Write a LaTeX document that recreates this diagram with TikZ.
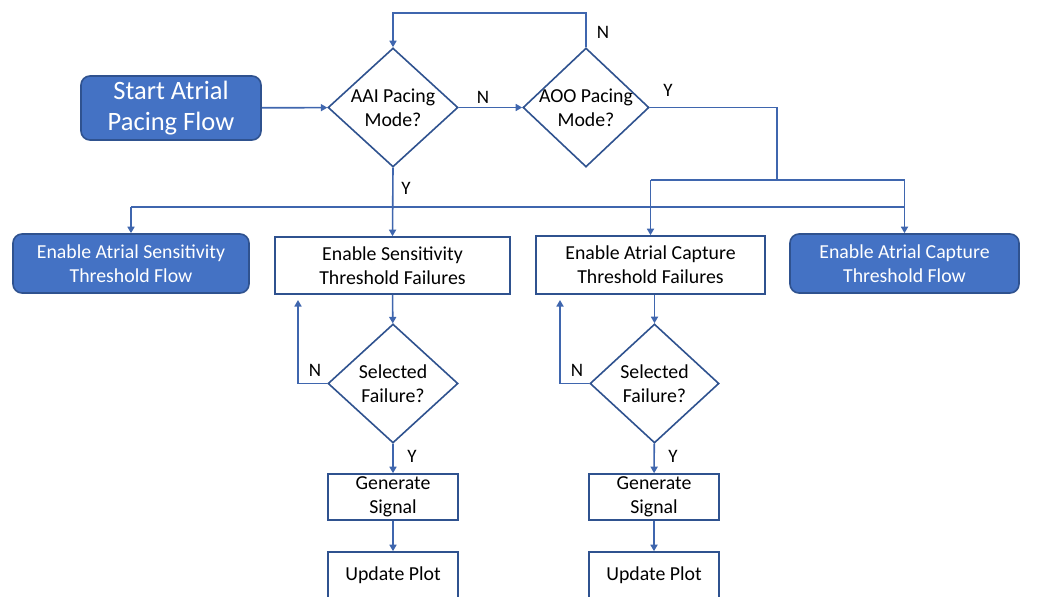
\documentclass[tikz,border=0pt]{standalone}
\usepackage{fontspec}
\setmainfont{Carlito}
\usetikzlibrary{shapes.geometric,arrows.meta}
\definecolor{lineblue}{HTML}{3F66AE}
\definecolor{fillblue}{HTML}{4472C4}
\definecolor{edgeblue}{HTML}{2F528F}

\begin{document}
\begin{tikzpicture}[x=1pt,y=-1pt,
  flow/.style={draw=edgeblue, fill=fillblue, rounded corners=9pt, line width=1.6pt,
    text=white, align=center, inner sep=0pt, font=\fontsize{19.8}{24}\selectfont},
  task/.style={draw=edgeblue, fill=white, line width=1.6pt, align=center,
    inner sep=0pt, font=\fontsize{19.8}{24}\selectfont},
  decide/.style={diamond, aspect=1.1, draw=edgeblue, fill=white, line width=1.6pt,
    align=center, inner xsep=-14pt, inner ysep=-4pt, font=\fontsize{19.8}{24}\selectfont},
  link/.style={draw=lineblue, line width=1.6pt},
  arr/.style={link, -{Triangle[width=7pt,length=6.5pt]}},
  lbl/.style={font=\fontsize{19}{20}\selectfont, inner sep=0pt}
]
\useasboundingbox (0,0) rectangle (1037,597);

% top row
\node[flow, font=\fontsize{26.5}{31}\selectfont, minimum width=180pt, minimum height=64pt]
  (start) at (171,108) {Start Atrial\\Pacing Flow};
\node[decide, minimum width=130pt, minimum height=119pt] (aai) at (393,107.5) {AAI Pacing\\Mode?};
\node[decide, minimum width=126pt, minimum height=119pt] (aoo) at (586,107.5) {AOO Pacing\\Mode?};

% second row
\node[flow, minimum width=236pt, minimum height=59pt] (asflow) at (131,263.5)
  {Enable Atrial Sensitivity\\Threshold Flow};
\node[task, minimum width=235pt, minimum height=57pt] (sensfail) at (392.5,265.5)
  {Enable Sensitivity\\Threshold Failures};
\node[task, minimum width=229pt, minimum height=58pt] (capfail) at (650.5,265)
  {Enable Atrial Capture\\Threshold Failures};
\node[flow, minimum width=229pt, minimum height=59pt] (capflow) at (904.5,263.5)
  {Enable Atrial Capture\\Threshold Flow};

% failure branches
\node[decide, minimum width=130pt, minimum height=119pt] (sel1) at (393,383.5) {Selected\\Failure?};
\node[decide, minimum width=129pt, minimum height=119pt] (sel2) at (654.5,383.5) {Selected\\Failure?};
\node[task, minimum width=130pt, minimum height=46pt] (gen1) at (393,497) {Generate\\Signal};
\node[task, minimum width=130pt, minimum height=46pt] (gen2) at (654,497) {Generate\\Signal};
\node[task, minimum width=130pt, minimum height=46pt] (upd1) at (393,575) {Update Plot};
\node[task, minimum width=130pt, minimum height=46pt] (upd2) at (654,575) {Update Plot};

% junction points
\coordinate (ysplit) at (777,180);
\coordinate (ybus) at (393,207);
\coordinate (loopy) at (0,13);
\coordinate (n1end) at (298,300);
\coordinate (n2end) at (560,300);

% connectors, top
\draw[arr] (start) -- (aai);
\draw[arr] (aai) -- (aoo);
\draw[arr] (aoo.north) -- (aoo.north |- loopy) -| (aai.north);
\draw[link] (aoo.east) -| (ysplit);
\draw[link] (capfail.north |- ysplit) -- (capflow.north |- ysplit);
\draw[arr] (capfail.north |- ysplit) -- (capfail.north);
\draw[arr] (capflow.north |- ysplit) -- (capflow.north);
\draw[arr] (aai.south) -- (sensfail.north);
\draw[link] (asflow.north |- ybus) -- (capflow.north |- ybus);
\draw[arr] (asflow.north |- ybus) -- (asflow.north);

% connectors, failure branches
\draw[arr] (sensfail) -- (sel1);
\draw[arr] (sel1.west) -| (n1end);
\draw[arr] (sel1) -- (gen1);
\draw[arr] (gen1) -- (upd1);
\draw[arr] (capfail.south -| sel2) -- (sel2);
\draw[arr] (sel2.west) -| (n2end);
\draw[arr] (sel2) -- (gen2);
\draw[arr] (gen2) -- (upd2);

% branch labels
\node[lbl] (lN1) at (483,97) {N};
\node[lbl] (lN2) at (603,32) {N};
\node[lbl] (lY1) at (668,90) {Y};
\node[lbl] (lY2) at (406,188) {Y};
\node[lbl] (lN3) at (315,370) {N};
\node[lbl] (lY3) at (412,456) {Y};
\node[lbl] (lN4) at (577,370) {N};
\node[lbl] (lY4) at (673,456) {Y};
\end{tikzpicture}
\end{document}
